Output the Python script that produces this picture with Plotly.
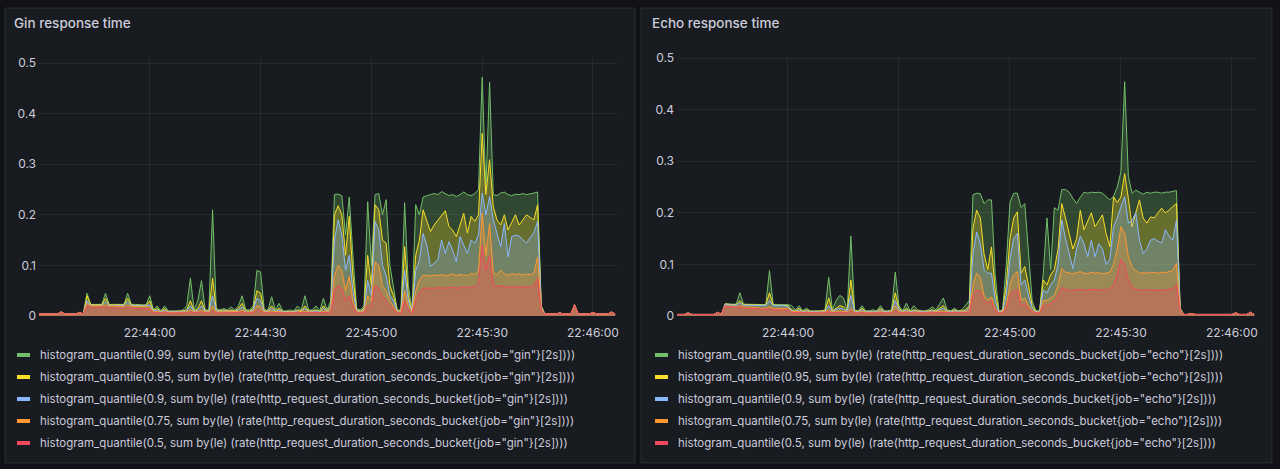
import numpy as np
import pandas as pd
import plotly.graph_objects as go

# ---------------- data (1 s resolution, starting 22:43:30) ----------------
START = "2024-01-01 22:43:30"

quantile_labels = ["0.99", "0.95", "0.9", "0.75", "0.5"]
series_colors = ["#73BF69", "#FADE2A", "#8AB8FF", "#FF9830", "#F2495C"]
fill_colors = ["rgba(115,191,105,0.27)", "rgba(250,222,42,0.27)", "rgba(138,184,255,0.27)",
               "rgba(255,152,48,0.3)", "rgba(242,73,92,0.3)"]
x_tick_times = ["2024-01-01 22:44:00", "2024-01-01 22:44:30", "2024-01-01 22:45:00",
                "2024-01-01 22:45:30", "2024-01-01 22:46:00"]
x_tick_text = ["22:44:00", "22:44:30", "22:45:00", "22:45:30", "22:46:00"]

gin_p99 = [
    0.004, 0.004, 0.004, 0.004, 0.004, 0.004, 0.008, 0.004, 0.004, 0.004,
    0.004, 0.007, 0.004, 0.045, 0.023, 0.023, 0.023, 0.023, 0.045, 0.023,
    0.023, 0.023, 0.023, 0.023, 0.045, 0.023, 0.023, 0.022, 0.022, 0.022,
    0.04, 0.012, 0.02, 0.01, 0.02, 0.01, 0.01, 0.01, 0.01, 0.012,
    0.02, 0.075, 0.012, 0.03, 0.07, 0.012, 0.012, 0.21, 0.015, 0.012,
    0.015, 0.012, 0.018, 0.012, 0.02, 0.04, 0.012, 0.012, 0.02, 0.09,
    0.087, 0.012, 0.012, 0.038, 0.012, 0.025, 0.01, 0.01, 0.012, 0.01,
    0.02, 0.012, 0.04, 0.012, 0.012, 0.02, 0.01, 0.035, 0.012, 0.03,
    0.24, 0.241, 0.238, 0.16, 0.235, 0.12, 0.015, 0.012, 0.02, 0.226,
    0.10, 0.24, 0.242, 0.2, 0.23, 0.1, 0.06, 0.012, 0.012, 0.224,
    0.06, 0.012, 0.22, 0.2, 0.235, 0.238, 0.24, 0.242, 0.24, 0.246,
    0.242, 0.238, 0.24, 0.236, 0.24, 0.245, 0.24, 0.238, 0.242, 0.25,
    0.472, 0.25, 0.462, 0.24, 0.238, 0.243, 0.245, 0.24, 0.238, 0.241,
    0.24, 0.242, 0.24, 0.241, 0.243, 0.245, 0.02, 0.004, 0.004, 0.004,
    0.004, 0.006, 0.004, 0.004, 0.004, 0.022, 0.004, 0.004, 0.004, 0.004,
    0.007, 0.004, 0.004, 0.004, 0.004, 0.008, 0.004,
]
gin_p95 = [
    0.004, 0.004, 0.004, 0.004, 0.004, 0.004, 0.008, 0.004, 0.004, 0.004,
    0.004, 0.007, 0.004, 0.04, 0.022, 0.022, 0.022, 0.022, 0.035, 0.022,
    0.022, 0.022, 0.022, 0.022, 0.035, 0.022, 0.021, 0.021, 0.021, 0.021,
    0.03, 0.011, 0.015, 0.009, 0.015, 0.009, 0.009, 0.009, 0.009, 0.01,
    0.012, 0.03, 0.01, 0.015, 0.03, 0.01, 0.01, 0.075, 0.012, 0.01,
    0.012, 0.01, 0.012, 0.01, 0.015, 0.025, 0.01, 0.01, 0.015, 0.05,
    0.045, 0.01, 0.01, 0.02, 0.01, 0.015, 0.009, 0.009, 0.01, 0.009,
    0.012, 0.01, 0.02, 0.01, 0.01, 0.012, 0.009, 0.02, 0.01, 0.02,
    0.2, 0.218, 0.2, 0.12, 0.197, 0.08, 0.012, 0.01, 0.015, 0.12,
    0.06, 0.22, 0.21, 0.15, 0.144, 0.06, 0.04, 0.01, 0.01, 0.137,
    0.04, 0.01, 0.12, 0.15, 0.21, 0.19, 0.167, 0.18, 0.19, 0.2,
    0.208, 0.177, 0.17, 0.157, 0.18, 0.203, 0.164, 0.197, 0.187, 0.2,
    0.361, 0.24, 0.309, 0.216, 0.19, 0.18, 0.2, 0.17, 0.185, 0.2,
    0.18, 0.19, 0.2, 0.195, 0.19, 0.22, 0.018, 0.004, 0.004, 0.004,
    0.004, 0.006, 0.004, 0.004, 0.004, 0.022, 0.004, 0.004, 0.004, 0.004,
    0.007, 0.004, 0.004, 0.004, 0.004, 0.008, 0.004,
]
gin_p90 = [
    0.004, 0.004, 0.004, 0.004, 0.004, 0.004, 0.008, 0.004, 0.004, 0.004,
    0.004, 0.007, 0.004, 0.03, 0.021, 0.021, 0.021, 0.021, 0.028, 0.021,
    0.021, 0.021, 0.021, 0.021, 0.028, 0.021, 0.02, 0.02, 0.02, 0.02,
    0.022, 0.01, 0.012, 0.008, 0.012, 0.008, 0.008, 0.008, 0.008, 0.009,
    0.01, 0.02, 0.009, 0.012, 0.02, 0.009, 0.009, 0.04, 0.01, 0.009,
    0.01, 0.009, 0.01, 0.009, 0.012, 0.018, 0.009, 0.009, 0.012, 0.035,
    0.03, 0.009, 0.009, 0.015, 0.009, 0.012, 0.008, 0.008, 0.009, 0.008,
    0.01, 0.009, 0.015, 0.009, 0.009, 0.01, 0.008, 0.015, 0.009, 0.015,
    0.15, 0.19, 0.16, 0.09, 0.12, 0.05, 0.01, 0.009, 0.012, 0.07,
    0.04, 0.187, 0.17, 0.1, 0.08, 0.04, 0.03, 0.009, 0.009, 0.09,
    0.03, 0.009, 0.09, 0.11, 0.163, 0.14, 0.098, 0.105, 0.111, 0.15,
    0.124, 0.147, 0.13, 0.107, 0.157, 0.14, 0.124, 0.15, 0.144, 0.16,
    0.243, 0.2, 0.236, 0.19, 0.163, 0.137, 0.183, 0.117, 0.157, 0.16,
    0.158, 0.15, 0.144, 0.155, 0.165, 0.187, 0.016, 0.004, 0.004, 0.004,
    0.004, 0.006, 0.004, 0.004, 0.004, 0.022, 0.004, 0.004, 0.004, 0.004,
    0.007, 0.004, 0.004, 0.004, 0.004, 0.008, 0.004,
]
gin_p75 = [
    0.004, 0.004, 0.004, 0.004, 0.004, 0.004, 0.008, 0.004, 0.004, 0.004,
    0.004, 0.007, 0.004, 0.025, 0.02, 0.02, 0.02, 0.02, 0.022, 0.02,
    0.02, 0.019, 0.019, 0.019, 0.022, 0.019, 0.019, 0.018, 0.018, 0.018,
    0.018, 0.008, 0.009, 0.007, 0.009, 0.007, 0.007, 0.007, 0.007, 0.008,
    0.008, 0.012, 0.008, 0.009, 0.012, 0.008, 0.008, 0.02, 0.008, 0.008,
    0.008, 0.008, 0.008, 0.008, 0.009, 0.012, 0.008, 0.008, 0.009, 0.02,
    0.018, 0.008, 0.008, 0.01, 0.008, 0.009, 0.007, 0.007, 0.008, 0.007,
    0.008, 0.008, 0.01, 0.008, 0.008, 0.008, 0.007, 0.01, 0.008, 0.01,
    0.08, 0.1, 0.09, 0.05, 0.078, 0.03, 0.008, 0.008, 0.009, 0.04,
    0.03, 0.107, 0.1, 0.06, 0.05, 0.03, 0.02, 0.008, 0.008, 0.05,
    0.02, 0.008, 0.05, 0.07, 0.081, 0.08, 0.079, 0.081, 0.08, 0.082,
    0.08, 0.081, 0.083, 0.08, 0.082, 0.081, 0.08, 0.084, 0.082, 0.09,
    0.203, 0.12, 0.183, 0.085, 0.082, 0.09, 0.083, 0.081, 0.084, 0.082,
    0.083, 0.081, 0.083, 0.082, 0.085, 0.117, 0.014, 0.004, 0.004, 0.004,
    0.004, 0.006, 0.004, 0.004, 0.004, 0.022, 0.004, 0.004, 0.004, 0.004,
    0.007, 0.004, 0.004, 0.004, 0.004, 0.008, 0.004,
]
gin_p50 = [
    0.004, 0.004, 0.004, 0.004, 0.004, 0.004, 0.008, 0.004, 0.004, 0.004,
    0.004, 0.007, 0.004, 0.02, 0.017, 0.017, 0.017, 0.017, 0.018, 0.016,
    0.016, 0.016, 0.016, 0.016, 0.017, 0.016, 0.015, 0.015, 0.015, 0.015,
    0.014, 0.006, 0.007, 0.006, 0.007, 0.006, 0.006, 0.006, 0.006, 0.006,
    0.006, 0.008, 0.006, 0.007, 0.008, 0.006, 0.006, 0.01, 0.006, 0.006,
    0.006, 0.006, 0.006, 0.006, 0.007, 0.008, 0.006, 0.006, 0.007, 0.012,
    0.011, 0.006, 0.006, 0.007, 0.006, 0.007, 0.006, 0.006, 0.006, 0.006,
    0.006, 0.006, 0.007, 0.006, 0.006, 0.006, 0.006, 0.007, 0.006, 0.007,
    0.05, 0.06, 0.055, 0.03, 0.04, 0.02, 0.006, 0.006, 0.007, 0.02,
    0.02, 0.06, 0.055, 0.04, 0.03, 0.02, 0.015, 0.006, 0.006, 0.03,
    0.012, 0.006, 0.03, 0.045, 0.055, 0.055, 0.054, 0.055, 0.056, 0.055,
    0.055, 0.056, 0.057, 0.055, 0.056, 0.057, 0.056, 0.057, 0.058, 0.065,
    0.14, 0.09, 0.12, 0.062, 0.058, 0.06, 0.058, 0.057, 0.058, 0.058,
    0.057, 0.058, 0.058, 0.057, 0.06, 0.075, 0.012, 0.004, 0.004, 0.004,
    0.004, 0.006, 0.004, 0.004, 0.004, 0.022, 0.004, 0.004, 0.004, 0.004,
    0.007, 0.004, 0.004, 0.004, 0.004, 0.008, 0.004,
]

echo_p99 = [
    0.003, 0.003, 0.003, 0.006, 0.003, 0.003, 0.003, 0.003, 0.003, 0.003,
    0.003, 0.007, 0.003, 0.024, 0.023, 0.023, 0.023, 0.045, 0.023, 0.023,
    0.023, 0.022, 0.022, 0.022, 0.022, 0.088, 0.022, 0.022, 0.022, 0.022,
    0.022, 0.02, 0.012, 0.02, 0.01, 0.015, 0.01, 0.01, 0.01, 0.01,
    0.012, 0.075, 0.012, 0.03, 0.04, 0.035, 0.012, 0.155, 0.012, 0.01,
    0.02, 0.01, 0.01, 0.012, 0.01, 0.02, 0.01, 0.01, 0.012, 0.085,
    0.02, 0.01, 0.025, 0.01, 0.02, 0.012, 0.01, 0.01, 0.012, 0.018,
    0.012, 0.025, 0.035, 0.012, 0.01, 0.015, 0.01, 0.012, 0.02, 0.03,
    0.235, 0.238, 0.237, 0.218, 0.225, 0.225, 0.08, 0.01, 0.012, 0.1,
    0.22, 0.238, 0.238, 0.21, 0.218, 0.12, 0.03, 0.01, 0.01, 0.083,
    0.19, 0.09, 0.21, 0.205, 0.245, 0.245, 0.24, 0.228, 0.218, 0.23,
    0.24, 0.238, 0.24, 0.239, 0.24, 0.238, 0.232, 0.225, 0.232, 0.25,
    0.28, 0.454, 0.27, 0.238, 0.244, 0.24, 0.236, 0.24, 0.238, 0.24,
    0.24, 0.238, 0.24, 0.24, 0.242, 0.243, 0.015, 0.003, 0.003, 0.005,
    0.003, 0.003, 0.003, 0.003, 0.003, 0.003, 0.003, 0.003, 0.003, 0.003,
    0.003, 0.006, 0.003, 0.003, 0.003, 0.007, 0.003,
]
echo_p95 = [
    0.003, 0.003, 0.003, 0.006, 0.003, 0.003, 0.003, 0.003, 0.003, 0.003,
    0.003, 0.007, 0.003, 0.023, 0.022, 0.022, 0.022, 0.03, 0.022, 0.022,
    0.022, 0.021, 0.021, 0.021, 0.021, 0.045, 0.021, 0.021, 0.021, 0.021,
    0.02, 0.012, 0.01, 0.015, 0.009, 0.012, 0.009, 0.009, 0.009, 0.009,
    0.01, 0.035, 0.01, 0.015, 0.02, 0.018, 0.01, 0.07, 0.01, 0.009,
    0.015, 0.009, 0.009, 0.01, 0.009, 0.015, 0.009, 0.009, 0.01, 0.045,
    0.015, 0.009, 0.015, 0.009, 0.012, 0.01, 0.009, 0.009, 0.01, 0.012,
    0.01, 0.015, 0.02, 0.01, 0.009, 0.012, 0.009, 0.01, 0.012, 0.02,
    0.17, 0.205, 0.19, 0.12, 0.09, 0.134, 0.05, 0.009, 0.01, 0.06,
    0.15, 0.19, 0.202, 0.083, 0.096, 0.06, 0.02, 0.009, 0.009, 0.07,
    0.06, 0.08, 0.09, 0.13, 0.218, 0.19, 0.16, 0.13, 0.15, 0.205,
    0.167, 0.185, 0.2, 0.173, 0.185, 0.196, 0.16, 0.134, 0.231, 0.22,
    0.231, 0.276, 0.228, 0.173, 0.2, 0.225, 0.19, 0.18, 0.192, 0.19,
    0.2, 0.209, 0.2, 0.205, 0.212, 0.218, 0.014, 0.003, 0.003, 0.005,
    0.003, 0.003, 0.003, 0.003, 0.003, 0.003, 0.003, 0.003, 0.003, 0.003,
    0.003, 0.006, 0.003, 0.003, 0.003, 0.007, 0.003,
]
echo_p90 = [
    0.003, 0.003, 0.003, 0.006, 0.003, 0.003, 0.003, 0.003, 0.003, 0.003,
    0.003, 0.007, 0.003, 0.022, 0.021, 0.021, 0.021, 0.025, 0.021, 0.021,
    0.021, 0.02, 0.02, 0.02, 0.02, 0.03, 0.02, 0.02, 0.02, 0.02,
    0.018, 0.01, 0.009, 0.012, 0.008, 0.01, 0.008, 0.008, 0.008, 0.008,
    0.009, 0.02, 0.009, 0.012, 0.015, 0.013, 0.009, 0.04, 0.009, 0.008,
    0.012, 0.008, 0.008, 0.009, 0.008, 0.012, 0.008, 0.008, 0.009, 0.03,
    0.012, 0.008, 0.012, 0.008, 0.01, 0.009, 0.008, 0.008, 0.009, 0.01,
    0.009, 0.012, 0.015, 0.009, 0.008, 0.01, 0.008, 0.009, 0.01, 0.015,
    0.12, 0.163, 0.14, 0.09, 0.083, 0.083, 0.03, 0.008, 0.009, 0.04,
    0.11, 0.15, 0.16, 0.06, 0.07, 0.04, 0.015, 0.008, 0.008, 0.05,
    0.045, 0.06, 0.07, 0.1, 0.186, 0.15, 0.12, 0.092, 0.13, 0.155,
    0.14, 0.115, 0.147, 0.115, 0.14, 0.13, 0.1, 0.11, 0.173, 0.19,
    0.212, 0.231, 0.18, 0.185, 0.2, 0.147, 0.121, 0.13, 0.147, 0.15,
    0.145, 0.141, 0.167, 0.155, 0.147, 0.186, 0.013, 0.003, 0.003, 0.005,
    0.003, 0.003, 0.003, 0.003, 0.003, 0.003, 0.003, 0.003, 0.003, 0.003,
    0.003, 0.006, 0.003, 0.003, 0.003, 0.007, 0.003,
]
echo_p75 = [
    0.003, 0.003, 0.003, 0.006, 0.003, 0.003, 0.003, 0.003, 0.003, 0.003,
    0.003, 0.007, 0.003, 0.02, 0.019, 0.019, 0.018, 0.02, 0.018, 0.017,
    0.017, 0.016, 0.016, 0.015, 0.015, 0.018, 0.015, 0.015, 0.014, 0.014,
    0.014, 0.008, 0.008, 0.009, 0.007, 0.008, 0.007, 0.007, 0.007, 0.007,
    0.008, 0.012, 0.008, 0.009, 0.01, 0.009, 0.008, 0.015, 0.008, 0.007,
    0.009, 0.007, 0.007, 0.008, 0.007, 0.009, 0.007, 0.007, 0.008, 0.02,
    0.009, 0.007, 0.009, 0.007, 0.008, 0.008, 0.007, 0.007, 0.008, 0.008,
    0.008, 0.009, 0.01, 0.008, 0.007, 0.008, 0.007, 0.008, 0.008, 0.01,
    0.06, 0.083, 0.075, 0.04, 0.03, 0.037, 0.015, 0.007, 0.008, 0.02,
    0.06, 0.08, 0.086, 0.03, 0.035, 0.02, 0.01, 0.007, 0.007, 0.03,
    0.03, 0.035, 0.04, 0.06, 0.092, 0.085, 0.083, 0.082, 0.084, 0.086,
    0.083, 0.082, 0.085, 0.083, 0.084, 0.082, 0.083, 0.085, 0.1, 0.13,
    0.173, 0.16, 0.115, 0.095, 0.088, 0.083, 0.084, 0.083, 0.085, 0.084,
    0.083, 0.085, 0.084, 0.086, 0.088, 0.102, 0.012, 0.003, 0.003, 0.005,
    0.003, 0.003, 0.003, 0.003, 0.003, 0.003, 0.003, 0.003, 0.003, 0.003,
    0.003, 0.006, 0.003, 0.003, 0.003, 0.007, 0.003,
]
echo_p50 = [
    0.003, 0.003, 0.003, 0.006, 0.003, 0.003, 0.003, 0.003, 0.003, 0.003,
    0.003, 0.007, 0.003, 0.02, 0.018, 0.018, 0.017, 0.018, 0.015, 0.015,
    0.015, 0.014, 0.014, 0.013, 0.013, 0.014, 0.012, 0.012, 0.012, 0.012,
    0.012, 0.007, 0.007, 0.007, 0.006, 0.007, 0.006, 0.006, 0.006, 0.006,
    0.006, 0.008, 0.006, 0.007, 0.007, 0.007, 0.006, 0.009, 0.006, 0.006,
    0.007, 0.006, 0.006, 0.006, 0.006, 0.007, 0.006, 0.006, 0.006, 0.01,
    0.007, 0.006, 0.007, 0.006, 0.006, 0.006, 0.006, 0.006, 0.006, 0.006,
    0.006, 0.007, 0.007, 0.006, 0.006, 0.006, 0.006, 0.006, 0.006, 0.007,
    0.04, 0.05, 0.048, 0.03, 0.025, 0.03, 0.01, 0.006, 0.006, 0.015,
    0.04, 0.05, 0.05, 0.02, 0.025, 0.015, 0.008, 0.006, 0.006, 0.02,
    0.02, 0.025, 0.03, 0.04, 0.055, 0.052, 0.05, 0.05, 0.051, 0.052,
    0.05, 0.05, 0.052, 0.051, 0.05, 0.05, 0.051, 0.052, 0.06, 0.08,
    0.11, 0.1, 0.07, 0.055, 0.052, 0.05, 0.05, 0.051, 0.05, 0.05,
    0.05, 0.051, 0.05, 0.052, 0.053, 0.06, 0.01, 0.003, 0.003, 0.005,
    0.003, 0.003, 0.003, 0.003, 0.003, 0.003, 0.003, 0.003, 0.003, 0.003,
    0.003, 0.006, 0.003, 0.003, 0.003, 0.007, 0.003,
]

panel_titles = ["Gin response time", "Echo response time"]
jobs = ["gin", "echo"]
panel_series = [
    [gin_p99, gin_p95, gin_p90, gin_p75, gin_p50],
    [echo_p99, echo_p95, echo_p90, echo_p75, echo_p50],
]
y_ticks = [0, 0.1, 0.2, 0.3, 0.4, 0.5]
y_tick_text = ["0", "0.1", "0.2", "0.3", "0.4", "0.5"]

# ---------------- layout geometry (pixels) ----------------
W, H = 1280, 469
BG = "#111217"
PANEL = "#181b1f"
TEXT = "#ccccdc"

panels = [
    dict(x0=5, x1=635, plot_x0=39, plot_x1=617, ymax=0.512, sw_x0=17, sw_x1=30, text_x=38, title_x=12),
    dict(x0=641, x1=1272, plot_x0=677, plot_x1=1256, ymax=0.502, sw_x0=655, sw_x1=668, text_x=676, title_x=650),
]
PANEL_Y0, PANEL_Y1 = 8, 463
PLOT_TOP, PLOT_BOTTOM = 57, 316
LEGEND_ROWS = [355, 377, 399, 421, 443]


def px(x):
    return x / W


def py(y):
    return 1 - y / H


n = len(gin_p99)
times = pd.Timestamp(START) + pd.to_timedelta(np.arange(n), unit="s")
t_end = pd.Timestamp(START) + pd.Timedelta(seconds=156.5)

fig = go.Figure()
shapes = []
annotations = []

for i, p in enumerate(panels):
    xa = "x" if i == 0 else "x2"
    ya = "y" if i == 0 else "y2"
    for k in range(5):
        fig.add_trace(go.Scatter(
            x=times, y=panel_series[i][k], xaxis=xa, yaxis=ya,
            mode="lines", line=dict(color=series_colors[k], width=1),
            fill="tozeroy", fillcolor=fill_colors[k],
            showlegend=False, hoverinfo="skip",
        ))
    axis_x = dict(
        domain=[px(p["plot_x0"]), px(p["plot_x1"])],
        anchor=ya, type="date",
        range=[times[0], t_end],
        tickvals=x_tick_times, ticktext=x_tick_text,
        showgrid=True, gridcolor="rgba(204,204,220,0.08)", gridwidth=1,
        zeroline=False, showline=False, ticks="",
        tickfont=dict(family="Inter", size=12, color=TEXT),
        ticklabelstandoff=8, automargin=False, fixedrange=True,
    )
    axis_y = dict(
        domain=[py(PLOT_BOTTOM), py(PLOT_TOP)],
        anchor=xa, range=[0, p["ymax"]],
        tickvals=y_ticks, ticktext=y_tick_text,
        showgrid=True, gridcolor="rgba(204,204,220,0.08)", gridwidth=1,
        zeroline=False, showline=False, ticks="",
        tickfont=dict(family="Inter", size=12, color=TEXT),
        ticklabelstandoff=2, automargin=False, fixedrange=True,
    )
    if i == 0:
        fig.update_layout(xaxis=axis_x, yaxis=axis_y)
    else:
        fig.update_layout(xaxis2=axis_x, yaxis2=axis_y)

    # panel background
    shapes.append(dict(type="rect", xref="paper", yref="paper", layer="below",
                       x0=px(p["x0"]), x1=px(p["x1"]), y0=py(PANEL_Y1), y1=py(PANEL_Y0),
                       fillcolor=PANEL, line=dict(color="rgba(204,204,220,0.12)", width=1)))
    # title
    annotations.append(dict(text=panel_titles[i], xref="paper", yref="paper",
                            x=px(p["title_x"]), y=py(23), xanchor="left", yanchor="middle",
                            showarrow=False,
                            font=dict(family="Inter", size=13.5, color=TEXT, weight=500)))
    # legend
    for k in range(5):
        label = ('histogram_quantile(%s, sum by(le) (rate(http_request_duration_seconds_bucket{job="%s"}[2s])))'
                 % (quantile_labels[k], jobs[i]))
        ry = LEGEND_ROWS[k]
        shapes.append(dict(type="rect", xref="paper", yref="paper",
                           x0=px(p["sw_x0"]), x1=px(p["sw_x1"]), y0=py(ry + 2), y1=py(ry - 2),
                           fillcolor=series_colors[k], line=dict(width=0)))
        annotations.append(dict(text=label, xref="paper", yref="paper",
                                x=px(p["text_x"]), y=py(ry), xanchor="left", yanchor="middle",
                                showarrow=False,
                                font=dict(family="Inter", size=11.5, color=TEXT)))

fig.update_layout(
    width=W, height=H, margin=dict(l=0, r=0, t=0, b=0),
    paper_bgcolor=BG, plot_bgcolor="rgba(0,0,0,0)",
    shapes=shapes, annotations=annotations,
    hovermode=False, showlegend=False,
)

fig.write_html("out.html", config={"displayModeBar": False, "staticPlot": True})
